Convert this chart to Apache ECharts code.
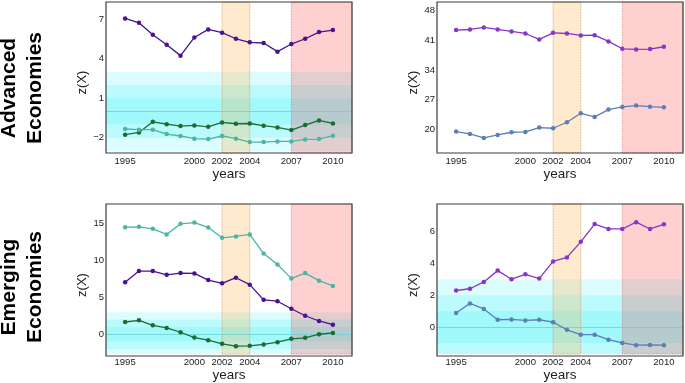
<!DOCTYPE html>
<html>
<head>
<meta charset="utf-8">
<script src="https://cdn.jsdelivr.net/npm/echarts@6/dist/echarts.min.js"></script>
<style>
html,body{margin:0;padding:0;background:#fff;}
#c{width:685px;height:383px;}
</style>
</head>
<body>
<div id="c"></div>
<script>
// ---- data ----
const years = [1995,1996,1997,1998,1999,2000,2001,2002,2003,2004,2005,2006,2007,2008,2009,2010];
const xTicks = [1995,2000,2002,2004,2007,2010];

// Advanced economies, left panel
const advDark  = [7.05,6.72,5.82,5.06,4.23,5.61,6.22,5.97,5.51,5.24,5.19,4.53,5.11,5.51,6.02,6.17];
const advGreen = [-1.77,-1.60,-0.79,-0.97,-1.12,-1.07,-1.17,-0.84,-0.94,-0.92,-1.09,-1.22,-1.42,-1.04,-0.69,-0.92];
const advTeal  = [-1.34,-1.39,-1.39,-1.72,-1.87,-2.07,-2.10,-1.87,-2.07,-2.33,-2.33,-2.28,-2.28,-2.13,-2.10,-1.85];
// Advanced economies, right panel
const advPurple = [43.39,43.54,44.01,43.54,43.07,42.60,41.20,42.76,42.60,42.14,42.21,40.73,39.00,38.85,38.93,39.48];
const advBlue   = [19.54,18.99,18.05,18.76,19.38,19.46,20.48,20.32,21.73,23.84,22.98,24.70,25.33,25.64,25.40,25.25];
// Emerging economies, left panel
const emTeal  = [14.55,14.60,14.33,13.56,15.00,15.18,14.51,13.11,13.29,13.56,10.96,9.48,7.59,8.31,7.28,6.56];
const emDark  = [7.05,8.58,8.58,8.08,8.31,8.26,7.36,6.92,7.68,6.74,4.67,4.49,3.46,2.51,1.80,1.30];
const emGreen = [1.66,1.89,1.21,0.85,0.27,-0.45,-0.81,-1.30,-1.62,-1.57,-1.39,-1.08,-0.63,-0.49,0.00,0.18];
// Emerging economies, right panel
const emPurple = [2.30,2.41,2.84,3.55,3.01,3.32,3.05,4.13,4.38,5.36,6.48,6.17,6.17,6.60,6.17,6.46];
const emBlue   = [0.89,1.49,1.14,0.46,0.48,0.42,0.46,0.31,-0.17,-0.48,-0.48,-0.79,-1.00,-1.14,-1.12,-1.14];

const yTicks1 = [-2,1,4,7];
const yTicks2 = [20,27,34,41,48];
const yTicks3 = [0,5,10,15];
const yTicks4 = [0,2,4,6];

const rowLabels = ['Advanced\nEconomies','Emerging\nEconomies'];
const xName = 'years';
const yName = 'z(X)';

// ---- layout / style ----
const FONT = 'Liberation Sans, Arial, Helvetica, sans-serif';
const X_MIN = 1993.62, X_MAX = 2011.38;
const panels = [
  {left:106, top:2,   width:246, height:151, ymin:-3.16, ymax:8.3,  ticks:yTicks1, bands:true},
  {left:437, top:2,   width:246, height:151, ymin:14.5,  ymax:50.0, ticks:yTicks2, bands:false},
  {left:106, top:204, width:246, height:152, ymin:-2.7,  ymax:17.7, ticks:yTicks3, bands:true},
  {left:437, top:204, width:246, height:152, ymin:-1.7,  ymax:7.74, ticks:yTicks4, bands:true}
];
const C_DARK = '#4a1190', C_GREEN = '#1c6b30', C_TEAL = '#4db5a6', C_PURPLE = '#8a34c9', C_BLUE = '#5b7fb6';

const seriesDefs = [
  {p:0, data:advDark, color:C_DARK},
  {p:0, data:advGreen, color:C_GREEN},
  {p:0, data:advTeal, color:C_TEAL},
  {p:1, data:advPurple, color:C_PURPLE},
  {p:1, data:advBlue, color:C_BLUE},
  {p:2, data:emTeal, color:C_TEAL},
  {p:2, data:emDark, color:C_DARK},
  {p:2, data:emGreen, color:C_GREEN},
  {p:3, data:emPurple, color:C_PURPLE},
  {p:3, data:emBlue, color:C_BLUE}
];

const fmt = v => String(v).replace('-', '\u2212');

const grids = [], xAxes = [], yAxes = [], series = [], graphics = [];
panels.forEach((P, i) => {
  grids.push({left:P.left, top:P.top, width:P.width, height:P.height, containLabel:false});
  xAxes.push({
    type:'value', gridIndex:i, min:X_MIN, max:X_MAX,
    name: xName, nameLocation:'middle', nameGap:13,
    nameTextStyle:{fontFamily:FONT, fontSize:13.5, color:'#222'},
    axisLine:{show:false},
    splitLine:{show:false},
    axisTick:{show:false},
    axisLabel:{customValues:xTicks, fontFamily:FONT, fontSize:9.5, color:'#222', margin:3, formatter:fmt}
  });
  yAxes.push({
    type:'value', gridIndex:i, min:P.ymin, max:P.ymax,
    axisLine:{show:false},
    splitLine:{show:false},
    axisTick:{show:false},
    axisLabel:{customValues:P.ticks, fontFamily:FONT, fontSize:9.5, color:'#222', margin:2, formatter:fmt}
  });
  // background bands
  const areas = [];
  if (P.bands) {
    [[-3,3],[-2,2],[-1,1]].forEach(b => {
      areas.push([{xAxis:X_MIN, yAxis:Math.max(b[0],P.ymin), itemStyle:{color:'rgba(0,240,250,0.14)', borderWidth:0}}, {xAxis:X_MAX, yAxis:b[1]}]);
    });
  }
  areas.push([{xAxis:2002, yAxis:P.ymin, itemStyle:{color:'rgba(255,170,60,0.25)', borderColor:'#c99a6a', borderWidth:0.8, borderType:'dotted'}}, {xAxis:2004, yAxis:P.ymax}]);
  areas.push([{xAxis:2007, yAxis:P.ymin, itemStyle:{color:'rgba(255,40,40,0.22)', borderColor:'#c98080', borderWidth:0.8, borderType:'dotted'}}, {xAxis:X_MAX, yAxis:P.ymax}]);
  const bg = {
    type:'line', xAxisIndex:i, yAxisIndex:i, data:[], silent:true, z:1,
    markArea:{silent:true, label:{show:false}, data:areas}
  };
  if (P.bands) {
    bg.markLine = {silent:true, symbol:['none','none'], label:{show:false},
      lineStyle:{color:'#6fcfd6', width:0.8, type:'solid'},
      data:[[{xAxis:X_MIN, yAxis:0},{xAxis:X_MAX, yAxis:0}]]};
  }
  series.push(bg);
  // frame
  graphics.push({type:'rect', z:100, silent:true,
    shape:{x:P.left, y:P.top, width:P.width, height:P.height},
    style:{fill:'none', stroke:'#3c3c3c', lineWidth:1.2}});
  // y-axis title
  graphics.push({type:'text', z:100, silent:true,
    x: P.left - 24, y: P.top + P.height/2 + 5, rotation: Math.PI/2,
    style:{text:yName, font:'13px ' + FONT, fill:'#222', align:'center', verticalAlign:'middle'}});
});

seriesDefs.forEach(s => {
  series.push({
    type:'line', xAxisIndex:s.p, yAxisIndex:s.p, z:5,
    data: years.map((y,k)=>[y, s.data[k]]),
    symbol:'circle', symbolSize:4.5, showSymbol:true,
    lineStyle:{color:s.color, width:1.3},
    itemStyle:{color:s.color},
    animation:false
  });
});

// row labels
[88, 287].forEach((cy, r) => {
  graphics.push({type:'text', z:100, silent:true,
    x: 22, y: cy, rotation: Math.PI/2,
    style:{text:rowLabels[r], font:'bold 21px ' + FONT, fill:'#000', align:'center', verticalAlign:'middle', lineHeight:26}});
});

const chart = echarts.init(document.getElementById('c'), null, {renderer:'canvas'});
chart.setOption({
  animation:false,
  backgroundColor:'#fff',
  grid:grids, xAxis:xAxes, yAxis:yAxes, series:series, graphic:graphics
});
</script>
</body>
</html>
